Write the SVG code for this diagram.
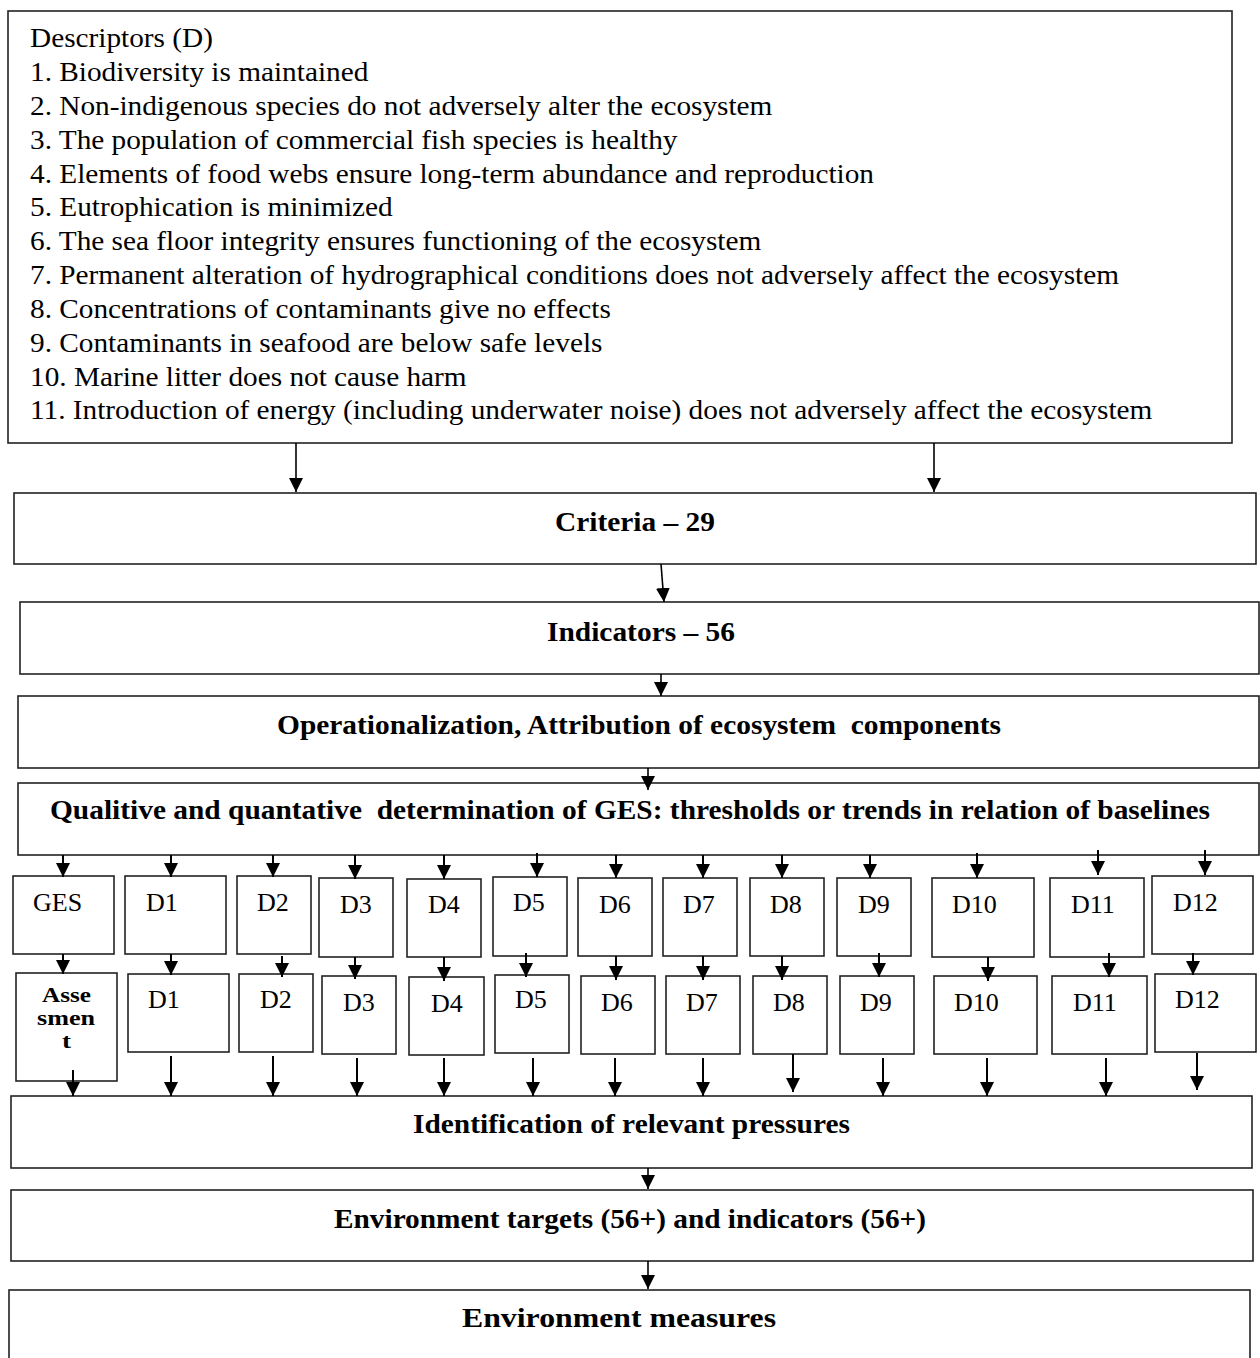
<svg xmlns="http://www.w3.org/2000/svg" width="1260" height="1358" viewBox="0 0 1260 1358">
<style>
.box{fill:#fff;stroke:#222;stroke-width:1.6}
.reg{font-family:"Liberation Serif","Times New Roman",serif;font-size:27px;fill:#000}
.lab{font-family:"Liberation Serif","Times New Roman",serif;font-size:26px;fill:#000}
.bold{font-family:"Liberation Serif","Times New Roman",serif;font-size:28px;font-weight:bold;fill:#000;white-space:pre}
.asm{font-family:"Liberation Serif","Times New Roman",serif;font-size:20px;font-weight:bold;fill:#000}
.con{stroke:#000;stroke-width:2;fill:none;marker-end:url(#ah)}
.thin{stroke-width:1.6}
</style>
<defs>
<marker id="ah" markerUnits="userSpaceOnUse" markerWidth="16" markerHeight="16" refX="14" refY="7" orient="auto">
<path d="M0,0 L14,7 L0,14 z" fill="#000"/>
</marker>
</defs>
<rect width="1260" height="1358" fill="#fff"/>

<g id="descriptors">
<rect class="box" x="8" y="11" width="1224" height="432"/>
<g transform="translate(30 0) scale(1.085 1)" class="reg">
<text x="0" y="47">Descriptors (D)</text>
<text x="0" y="81">1. Biodiversity is maintained</text>
<text x="0" y="115">2. Non-indigenous species do not adversely alter the ecosystem</text>
<text x="0" y="149">3. The population of commercial fish species is healthy</text>
<text x="0" y="183">4. Elements of food webs ensure long-term abundance and reproduction</text>
<text x="0" y="216">5. Eutrophication is minimized</text>
<text x="0" y="250">6. The sea floor integrity ensures functioning of the ecosystem</text>
<text x="0" y="284">7. Permanent alteration of hydrographical conditions does not adversely affect the ecosystem</text>
<text x="0" y="318">8. Concentrations of contaminants give no effects</text>
<text x="0" y="352">9. Contaminants in seafood are below safe levels</text>
<text x="0" y="386">10. Marine litter does not cause harm</text>
<text x="0" y="419">11. Introduction of energy (including underwater noise) does not adversely affect the ecosystem</text>
</g>
</g>

<g id="criteria">
<rect class="box" x="14" y="493" width="1242" height="71"/>
<text class="bold" x="555" y="531" textLength="160" lengthAdjust="spacingAndGlyphs">Criteria – 29</text>
</g>
<g id="indicators">
<rect class="box" x="20" y="602" width="1239" height="72"/>
<text class="bold" x="547" y="641" textLength="188" lengthAdjust="spacingAndGlyphs">Indicators – 56</text>
</g>
<g id="operationalization">
<rect class="box" x="18" y="696" width="1241" height="72"/>
<text class="bold" x="277" y="734" textLength="724" lengthAdjust="spacingAndGlyphs">Operationalization, Attribution of ecosystem  components</text>
</g>
<g id="ges-determination">
<rect class="box" x="18" y="783" width="1241" height="72"/>
<text class="bold" x="50" y="819" textLength="1160" lengthAdjust="spacingAndGlyphs">Qualitive and quantative  determination of GES: thresholds or trends in relation of baselines</text>
</g>

<g id="row1">
<g id="r1-ges"><rect class="box" x="13" y="876" width="101" height="78"/><text class="lab" x="33" y="911">GES</text></g>
<g id="r1-d1"><rect class="box" x="125" y="876" width="101" height="78"/><text class="lab" x="146" y="911">D1</text></g>
<g id="r1-d2"><rect class="box" x="237" y="876" width="74" height="78"/><text class="lab" x="257" y="911">D2</text></g>
<g id="r1-d3"><rect class="box" x="319" y="878" width="74" height="79"/><text class="lab" x="340" y="913">D3</text></g>
<g id="r1-d4"><rect class="box" x="407" y="879" width="74" height="78"/><text class="lab" x="428" y="913">D4</text></g>
<g id="r1-d5"><rect class="box" x="493" y="877" width="74" height="79"/><text class="lab" x="513" y="911">D5</text></g>
<g id="r1-d6"><rect class="box" x="578" y="878" width="74" height="78"/><text class="lab" x="599" y="913">D6</text></g>
<g id="r1-d7"><rect class="box" x="663" y="878" width="74" height="78"/><text class="lab" x="683" y="913">D7</text></g>
<g id="r1-d8"><rect class="box" x="750" y="878" width="74" height="78"/><text class="lab" x="770" y="913">D8</text></g>
<g id="r1-d9"><rect class="box" x="837" y="878" width="74" height="78"/><text class="lab" x="858" y="913">D9</text></g>
<g id="r1-d10"><rect class="box" x="932" y="878" width="102" height="79"/><text class="lab" x="952" y="913">D10</text></g>
<g id="r1-d11"><rect class="box" x="1050" y="878" width="94" height="79"/><text class="lab" x="1071" y="913">D11</text></g>
<g id="r1-d12"><rect class="box" x="1152" y="876" width="101" height="78"/><text class="lab" x="1173" y="911">D12</text></g>
</g>

<g id="row2">
<g id="r2-assesment"><rect class="box" x="16" y="973" width="101" height="108"/>
<text class="asm" x="42" y="1002" textLength="49" lengthAdjust="spacingAndGlyphs">Asse</text>
<text class="asm" x="37" y="1025" textLength="58" lengthAdjust="spacingAndGlyphs">smen</text>
<text class="asm" x="62" y="1048" textLength="9" lengthAdjust="spacingAndGlyphs">t</text></g>
<g id="r2-d1"><rect class="box" x="128" y="974" width="101" height="78"/><text class="lab" x="148" y="1008">D1</text></g>
<g id="r2-d2"><rect class="box" x="239" y="974" width="74" height="78"/><text class="lab" x="260" y="1008">D2</text></g>
<g id="r2-d3"><rect class="box" x="322" y="976" width="74" height="78"/><text class="lab" x="343" y="1011">D3</text></g>
<g id="r2-d4"><rect class="box" x="409" y="977" width="75" height="78"/><text class="lab" x="431" y="1012">D4</text></g>
<g id="r2-d5"><rect class="box" x="495" y="975" width="74" height="78"/><text class="lab" x="515" y="1008">D5</text></g>
<g id="r2-d6"><rect class="box" x="581" y="976" width="74" height="78"/><text class="lab" x="601" y="1011">D6</text></g>
<g id="r2-d7"><rect class="box" x="666" y="976" width="74" height="78"/><text class="lab" x="686" y="1011">D7</text></g>
<g id="r2-d8"><rect class="box" x="753" y="976" width="74" height="78"/><text class="lab" x="773" y="1011">D8</text></g>
<g id="r2-d9"><rect class="box" x="840" y="976" width="74" height="78"/><text class="lab" x="860" y="1011">D9</text></g>
<g id="r2-d10"><rect class="box" x="934" y="976" width="103" height="78"/><text class="lab" x="954" y="1011">D10</text></g>
<g id="r2-d11"><rect class="box" x="1052" y="976" width="95" height="78"/><text class="lab" x="1073" y="1011">D11</text></g>
<g id="r2-d12"><rect class="box" x="1155" y="974" width="101" height="78"/><text class="lab" x="1175" y="1008">D12</text></g>
</g>

<g id="pressures">
<rect class="box" x="11" y="1096" width="1241" height="72"/>
<text class="bold" x="413" y="1133" textLength="437" lengthAdjust="spacingAndGlyphs">Identification of relevant pressures</text>
</g>
<g id="targets">
<rect class="box" x="11" y="1190" width="1242" height="71"/>
<text class="bold" x="334" y="1228" textLength="592" lengthAdjust="spacingAndGlyphs">Environment targets (56+) and indicators (56+)</text>
</g>
<g id="measures">
<rect class="box" x="9" y="1290" width="1241" height="80"/>
<text class="bold" x="462" y="1327" textLength="314" lengthAdjust="spacingAndGlyphs">Environment measures</text>
</g>

<g id="connectors">
<line class="con thin" x1="296" y1="443" x2="296" y2="492"/>
<line class="con thin" x1="934" y1="443" x2="934" y2="492"/>
<line class="con thin" x1="661" y1="564" x2="664" y2="602"/>
<line class="con thin" x1="661" y1="674" x2="661" y2="696"/>
<line class="con thin" x1="648" y1="768" x2="648" y2="790"/>

<line class="con" x1="63" y1="855" x2="63" y2="877"/>
<line class="con" x1="171" y1="855" x2="171" y2="877"/>
<line class="con" x1="273" y1="855" x2="273" y2="877"/>
<line class="con" x1="355" y1="855" x2="355" y2="879"/>
<line class="con" x1="444" y1="855" x2="444" y2="879"/>
<line class="con" x1="537" y1="853" x2="537" y2="877"/>
<line class="con" x1="616" y1="855" x2="616" y2="878"/>
<line class="con" x1="703" y1="855" x2="703" y2="878"/>
<line class="con" x1="782" y1="855" x2="782" y2="878"/>
<line class="con" x1="870" y1="855" x2="870" y2="878"/>
<line class="con" x1="977" y1="853" x2="977" y2="878"/>
<line class="con" x1="1098" y1="850" x2="1098" y2="875"/>
<line class="con" x1="1205" y1="850" x2="1205" y2="875"/>

<line class="con" x1="63" y1="954" x2="63" y2="974"/>
<line class="con" x1="171" y1="954" x2="171" y2="975"/>
<line class="con" x1="282" y1="956" x2="282" y2="977"/>
<line class="con" x1="355" y1="957" x2="355" y2="979"/>
<line class="con" x1="444" y1="957" x2="444" y2="981"/>
<line class="con" x1="526" y1="953" x2="526" y2="977"/>
<line class="con" x1="616" y1="956" x2="616" y2="980"/>
<line class="con" x1="703" y1="956" x2="703" y2="980"/>
<line class="con" x1="782" y1="956" x2="782" y2="980"/>
<line class="con" x1="879" y1="953" x2="879" y2="977"/>
<line class="con" x1="988" y1="957" x2="988" y2="981"/>
<line class="con" x1="1109" y1="953" x2="1109" y2="977"/>
<line class="con" x1="1193" y1="953" x2="1193" y2="975"/>

<line class="con" x1="73" y1="1070" x2="73" y2="1096"/>
<line class="con" x1="171" y1="1056" x2="171" y2="1096"/>
<line class="con" x1="273" y1="1056" x2="273" y2="1096"/>
<line class="con" x1="357" y1="1058" x2="357" y2="1096"/>
<line class="con" x1="444" y1="1058" x2="444" y2="1096"/>
<line class="con" x1="533" y1="1058" x2="533" y2="1096"/>
<line class="con" x1="615" y1="1058" x2="615" y2="1096"/>
<line class="con" x1="703" y1="1058" x2="703" y2="1096"/>
<line class="con" x1="793" y1="1054" x2="793" y2="1092"/>
<line class="con" x1="883" y1="1058" x2="883" y2="1096"/>
<line class="con" x1="987" y1="1058" x2="987" y2="1096"/>
<line class="con" x1="1106" y1="1058" x2="1106" y2="1096"/>
<line class="con" x1="1197" y1="1053" x2="1197" y2="1090"/>

<line class="con thin" x1="648" y1="1168" x2="648" y2="1189"/>
<line class="con thin" x1="648" y1="1261" x2="648" y2="1289"/>
</g>
</svg>
